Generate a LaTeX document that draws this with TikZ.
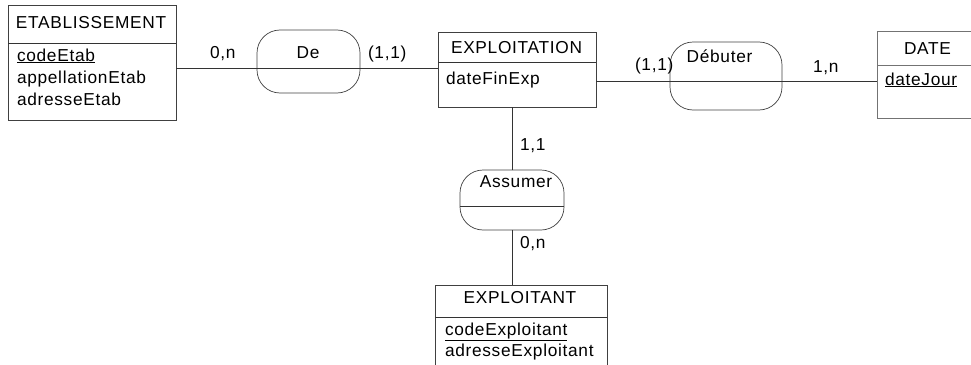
\documentclass[tikz,border=0pt]{standalone}
\usepackage{fontspec}
\setmainfont{Liberation Sans}[LetterSpace=4]
\begin{document}
\begin{tikzpicture}[x=1pt,y=-1pt,
  every node/.style={font=\fontsize{17.3}{20}\selectfont, inner sep=0pt, outer sep=0pt},
  ent/.style={draw=black!75, line width=0.7pt, rectangle},
  rel/.style={draw=black!75, line width=0.7pt, rectangle, rounded corners=23pt},
  lnk/.style={draw=black!80, line width=0.7pt},
  lbl/.style={anchor=base west},
  ttl/.style={anchor=base},
  att/.style={anchor=base west}]
\useasboundingbox (0,0) rectangle (971,364);

% entities
\node[ent, minimum width=168pt, minimum height=115pt] (etab) at (92,62.5) {};
\node[ent, minimum width=158pt, minimum height=75pt] (expl) at (517,69.5) {};
\node[ent, draw=black!55, minimum width=108pt, minimum height=87pt] (date) at (931,74.5) {};
\node[ent, minimum width=172pt, minimum height=95pt] (explt) at (521,332.5) {};

% relations
\node[rel, minimum width=103pt, minimum height=63pt] (de) at (308.5,61.5) {};
\node[rel, minimum width=112pt, minimum height=68pt] (deb) at (726,76) {};
\node[rel, minimum width=104pt, minimum height=60pt] (ass) at (512,200) {};

% divider levels
\coordinate (etabdiv) at (0,43);
\coordinate (expldiv) at (0,62);
\coordinate (datediv) at (0,65);
\coordinate (expltdiv) at (0,317);
\coordinate (dediv) at (0,68);
\coordinate (debdiv) at (0,81);
\coordinate (assdiv) at (0,206);

\draw[lnk] (etab.west |- etabdiv) -- (etab.east |- etabdiv);
\draw[lnk] (expl.west |- expldiv) -- (expl.east |- expldiv);
\draw[lnk, draw=black!55] (date.west |- datediv) -- (date.east |- datediv);
\draw[lnk] (explt.west |- expltdiv) -- (explt.east |- expltdiv);
\draw[lnk] (de.west |- dediv) -- (de.east |- dediv);
\draw[lnk] (deb.west |- debdiv) -- (deb.east |- debdiv);
\draw[lnk] (ass.west |- assdiv) -- (ass.east |- assdiv);

% connectors
\draw[lnk] (etab.east |- dediv) -- (de.west |- dediv);
\draw[lnk] (de.east |- dediv) -- (expl.west |- dediv);
\draw[lnk] (expl.east |- debdiv) -- (deb.west |- debdiv);
\draw[lnk] (deb.east |- debdiv) -- (date.west |- debdiv);
\draw[lnk] (ass.north) -- (ass.north |- expl.south);
\draw[lnk] (ass.south) -- (ass.south |- explt.north);

% titles
\node[ttl] (t1) at (91,28) {ETABLISSEMENT};
\node[ttl] (t2) at (516.5,53) {EXPLOITATION};
\node[ttl] (t3) at (927.5,54) {DATE};
\node[ttl] (t4) at (520,303) {EXPLOITANT};

% attributes
\node[att] (a1) at (17,61) {\underline{codeEtab}};
\node[att] (a2) at (17,83) {appellationEtab};
\node[att] (a3) at (17,105) {adresseEtab};
\node[att] (a4) at (446,84) {dateFinExp};
\node[att] (a5) at (885,85) {\underline{dateJour}};
\node[att] (a6) at (445,335) {\underline{codeExploitant}};
\node[att] (a7) at (445,356) {adresseExploitant};

% relation names
\node[ttl] (r1) at (308,58) {De};
\node[ttl] (r2) at (719.5,62) {Débuter};
\node[ttl] (r3) at (516,187) {Assumer};

% cardinalities
\node[lbl] (c1) at (210,58) {0,n};
\node[lbl] (c2) at (368,58) {(1,1)};
\node[lbl] (c3) at (635,70) {(1,1)};
\node[lbl] (c4) at (813,72) {1,n};
\node[lbl] (c5) at (520,150) {1,1};
\node[lbl] (c6) at (520,248) {0,n};
\end{tikzpicture}
\end{document}
